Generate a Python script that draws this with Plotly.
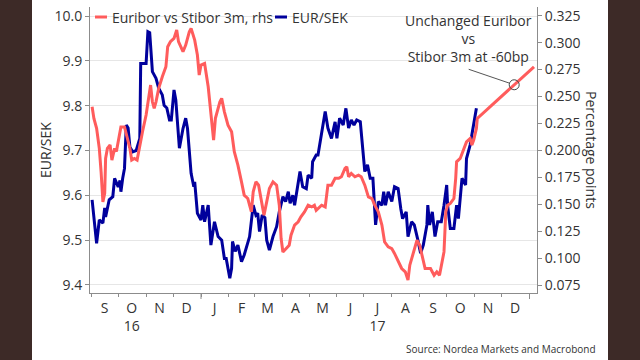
import plotly.graph_objects as go

# ---------------- data ----------------
eursek_dates = [
    "2016-09-02", "2016-09-07", "2016-09-10", "2016-09-14", "2016-09-16", "2016-09-17",
    "2016-09-21", "2016-09-25", "2016-09-27", "2016-10-01", "2016-10-03", "2016-10-04",
    "2016-10-06", "2016-10-08", "2016-10-10", "2016-10-12", "2016-10-14", "2016-10-17",
    "2016-10-21", "2016-10-25", "2016-10-26", "2016-11-01", "2016-11-03", "2016-11-05",
    "2016-11-08", "2016-11-12", "2016-11-15", "2016-11-19", "2016-11-21", "2016-11-24",
    "2016-11-27", "2016-11-29", "2016-12-02", "2016-12-04", "2016-12-08", "2016-12-12",
    "2016-12-15", "2016-12-17", "2016-12-21", "2016-12-24", "2016-12-25", "2016-12-28",
    "2017-01-01", "2017-01-03", "2017-01-05", "2017-01-09", "2017-01-12", "2017-01-16",
    "2017-01-20", "2017-01-24", "2017-01-27", "2017-01-29", "2017-02-02", "2017-02-04",
    "2017-02-05", "2017-02-08", "2017-02-11", "2017-02-15", "2017-02-18", "2017-02-20",
    "2017-02-24", "2017-02-28", "2017-03-03", "2017-03-05", "2017-03-07", "2017-03-10",
    "2017-03-13", "2017-03-15", "2017-03-18", "2017-03-22", "2017-03-26", "2017-03-29",
    "2017-04-02", "2017-04-05", "2017-04-08", "2017-04-10", "2017-04-13", "2017-04-15",
    "2017-04-19", "2017-04-21", "2017-04-24", "2017-04-28", "2017-04-30", "2017-05-04",
    "2017-05-05", "2017-05-09", "2017-05-11", "2017-05-15", "2017-05-19", "2017-05-22",
    "2017-05-26", "2017-05-30", "2017-06-01", "2017-06-04", "2017-06-08", "2017-06-11",
    "2017-06-14", "2017-06-17", "2017-06-20", "2017-06-23", "2017-06-27", "2017-07-01",
    "2017-07-02", "2017-07-05", "2017-07-08", "2017-07-11", "2017-07-14", "2017-07-17",
    "2017-07-21", "2017-07-23", "2017-07-25", "2017-07-28", "2017-08-01", "2017-08-04",
    "2017-08-08", "2017-08-11", "2017-08-13", "2017-08-17", "2017-08-19", "2017-08-23",
    "2017-08-26", "2017-08-30", "2017-09-02", "2017-09-05", "2017-09-06", "2017-09-09",
    "2017-09-10", "2017-09-12", "2017-09-15", "2017-09-18", "2017-09-21", "2017-09-25",
    "2017-09-28", "2017-10-01", "2017-10-02", "2017-10-05", "2017-10-09", "2017-10-12",
    "2017-10-14", "2017-10-16", "2017-10-18", "2017-10-22", "2017-10-23", "2017-10-27",
    "2017-10-31", "2017-11-03",
]
eursek_values = [
    9.590, 9.493, 9.545, 9.538, 9.572, 9.552,
    9.590, 9.597, 9.638, 9.619, 9.633, 9.608,
    9.638, 9.660, 9.757, 9.750, 9.708, 9.697,
    9.700, 9.727, 9.894, 9.894, 9.965, 9.963,
    9.876, 9.861, 9.839, 9.824, 9.801, 9.795,
    9.768, 9.768, 9.835, 9.813, 9.705, 9.749,
    9.772, 9.749, 9.649, 9.619, 9.630, 9.560,
    9.545, 9.578, 9.541, 9.578, 9.489, 9.541,
    9.508, 9.500, 9.459, 9.459, 9.415, 9.437,
    9.497, 9.475, 9.489, 9.452, 9.467, 9.482,
    9.508, 9.578, 9.556, 9.560, 9.519, 9.556,
    9.550, 9.500, 9.478, 9.508, 9.530, 9.563,
    9.597, 9.586, 9.608, 9.582, 9.600, 9.578,
    9.623, 9.653, 9.619, 9.615, 9.645, 9.638,
    9.675, 9.690, 9.690, 9.742, 9.787, 9.750,
    9.727, 9.764, 9.727, 9.772, 9.757, 9.794,
    9.750, 9.768, 9.757, 9.768, 9.764, 9.675,
    9.653, 9.668, 9.638, 9.638, 9.534, 9.586,
    9.578, 9.608, 9.578, 9.608, 9.586, 9.619,
    9.615, 9.570, 9.548, 9.563, 9.508, 9.541,
    9.534, 9.500, 9.471, 9.489, 9.500, 9.534,
    9.578, 9.534, 9.563, 9.508, 9.541, 9.541,
    9.578, 9.623, 9.578, 9.526, 9.526, 9.578,
    9.548, 9.601, 9.638, 9.623, 9.682, 9.712,
    9.764, 9.794,
]

spread_dates = [
    "2016-09-02", "2016-09-04", "2016-09-07", "2016-09-10", "2016-09-12", "2016-09-14",
    "2016-09-16", "2016-09-17", "2016-09-19", "2016-09-22", "2016-09-24", "2016-09-27",
    "2016-09-29", "2016-10-03", "2016-10-04", "2016-10-08", "2016-10-10", "2016-10-14",
    "2016-10-16", "2016-10-19", "2016-10-22", "2016-10-25", "2016-10-28", "2016-11-01",
    "2016-11-04", "2016-11-06", "2016-11-08", "2016-11-10", "2016-11-12", "2016-11-15",
    "2016-11-19", "2016-11-23", "2016-11-25", "2016-11-28", "2016-12-02", "2016-12-05",
    "2016-12-07", "2016-12-12", "2016-12-15", "2016-12-19", "2016-12-21", "2016-12-25",
    "2016-12-28", "2016-12-30", "2017-01-01", "2017-01-05", "2017-01-09", "2017-01-12",
    "2017-01-15", "2017-01-17", "2017-01-22", "2017-01-24", "2017-01-27", "2017-01-31",
    "2017-02-04", "2017-02-07", "2017-02-11", "2017-02-15", "2017-02-18", "2017-02-22",
    "2017-02-26", "2017-02-28", "2017-03-03", "2017-03-06", "2017-03-09", "2017-03-12",
    "2017-03-15", "2017-03-18", "2017-03-22", "2017-03-26", "2017-03-29", "2017-03-31",
    "2017-04-02", "2017-04-06", "2017-04-09", "2017-04-11", "2017-04-15", "2017-04-19",
    "2017-04-22", "2017-04-26", "2017-04-30", "2017-05-04", "2017-05-07", "2017-05-09",
    "2017-05-11", "2017-05-15", "2017-05-19", "2017-05-22", "2017-05-26", "2017-05-30",
    "2017-06-03", "2017-06-06", "2017-06-10", "2017-06-12", "2017-06-14", "2017-06-17",
    "2017-06-21", "2017-06-25", "2017-06-28", "2017-07-02", "2017-07-06", "2017-07-10",
    "2017-07-13", "2017-07-17", "2017-07-21", "2017-07-24", "2017-07-28", "2017-08-01",
    "2017-08-04", "2017-08-08", "2017-08-12", "2017-08-16", "2017-08-19", "2017-08-21",
    "2017-08-25", "2017-08-29", "2017-09-01", "2017-09-04", "2017-09-07", "2017-09-11",
    "2017-09-13", "2017-09-17", "2017-09-20", "2017-09-23", "2017-09-26", "2017-09-28",
    "2017-09-30", "2017-10-02", "2017-10-05", "2017-10-09", "2017-10-11", "2017-10-12",
    "2017-10-16", "2017-10-20", "2017-10-23", "2017-10-27", "2017-10-29", "2017-10-31",
    "2017-11-03", "2017-11-04", "2018-01-06",
]
spread_values = [
    0.2405, 0.2297, 0.2204, 0.2018, 0.1801, 0.1522,
    0.1600, 0.1925, 0.2018, 0.2050, 0.1910, 0.2018,
    0.1990, 0.2172, 0.2218, 0.2218, 0.2157, 0.2018,
    0.1910, 0.1925, 0.1910, 0.2050, 0.2172, 0.2328,
    0.2513, 0.2606, 0.2451, 0.2390, 0.2451, 0.2575,
    0.2683, 0.2776, 0.2962, 0.3009, 0.3040, 0.3117,
    0.3009, 0.2916, 0.2978, 0.3101, 0.3133, 0.3023,
    0.2885, 0.2699, 0.2792, 0.2807, 0.2590, 0.2358,
    0.2095, 0.2297, 0.2451, 0.2483, 0.2358, 0.2234,
    0.2172, 0.1987, 0.1863, 0.1708, 0.1584, 0.1553,
    0.1429, 0.1615, 0.1708, 0.1677, 0.1553, 0.1398,
    0.1522, 0.1646, 0.1708, 0.1677, 0.1491, 0.1182,
    0.1057, 0.1088, 0.1119, 0.1213, 0.1306, 0.1337,
    0.1383, 0.1429, 0.1491, 0.1475, 0.1491, 0.1444,
    0.1460, 0.1491, 0.1475, 0.1677, 0.1677, 0.1740,
    0.1740, 0.1755, 0.1832, 0.1848, 0.1755, 0.1786,
    0.1755, 0.1770, 0.1755, 0.1677, 0.1568, 0.1553,
    0.1491, 0.1429, 0.1306, 0.1150, 0.1104, 0.1088,
    0.1043, 0.0965, 0.0903, 0.0872, 0.0795, 0.0934,
    0.1057, 0.1166, 0.1119, 0.0996, 0.0903, 0.0903,
    0.0903, 0.0841, 0.0872, 0.0841, 0.0965, 0.1057,
    0.1429, 0.1491, 0.1507, 0.1553, 0.1740, 0.1894,
    0.1925, 0.2018, 0.2079, 0.2110, 0.2050, 0.2095,
    0.2204, 0.2297, 0.2776,
]

# highlighted point on the projection
marker_date = "2017-12-15"
marker_value = 0.2609

# axis ticks
month_starts = [
    "2016-09-01", "2016-10-01", "2016-11-01", "2016-12-01", "2017-01-01",
    "2017-02-01", "2017-03-01", "2017-04-01", "2017-05-01", "2017-06-01",
    "2017-07-01", "2017-08-01", "2017-09-01", "2017-10-01", "2017-11-01",
    "2017-12-01", "2018-01-01",
]
year_starts = ["2017-01-01", "2018-01-01"]
month_mids = [
    "2016-09-16", "2016-10-16", "2016-11-16", "2016-12-16", "2017-01-16",
    "2017-02-15", "2017-03-16", "2017-04-16", "2017-05-16", "2017-06-16",
    "2017-07-16", "2017-08-16", "2017-09-16", "2017-10-16", "2017-11-16",
    "2017-12-16",
]
month_labels = ["S", "O<br>16", "N", "D", "J", "F", "M", "A", "M", "J",
                "J<br>17", "A", "S", "O", "N", "D"]
left_ticks = [9.4, 9.5, 9.6, 9.7, 9.8, 9.9, 10.0]
right_ticks = [0.075, 0.100, 0.125, 0.150, 0.175, 0.200, 0.225, 0.250, 0.275, 0.300, 0.325]

# ---------------- style ----------------
RED = "#ff5c5c"
BLUE = "#00009c"
TXT = "#333333"
AX = "#8c8c8c"
FONT = "Open Sans"
DARK = "#3d2a27"

# plot area in pixels: x 90..537, y 7..293
L, R, T, B = 90, 103, 7, 67
PW, PH = 640 - L - R, 360 - T - B


def px(xp):
    return (xp - L) / PW


def py(yp):
    return (T + PH - yp) / PH


fig = go.Figure()
fig.add_trace(go.Scatter(x=eursek_dates, y=eursek_values, mode="lines",
                         line=dict(color=BLUE, width=3), name="EUR/SEK",
                         yaxis="y", showlegend=False))
fig.add_trace(go.Scatter(x=spread_dates, y=spread_values, mode="lines",
                         line=dict(color=RED, width=3), name="Euribor vs Stibor 3m, rhs",
                         yaxis="y2", showlegend=False))
fig.add_trace(go.Scatter(x=[marker_date], y=[marker_value], mode="markers",
                         marker=dict(symbol="circle-open", size=10,
                                     line=dict(color="#444444", width=1), color="#444444"),
                         yaxis="y2", showlegend=False, hoverinfo="skip"))

shapes = [
    dict(type="rect", xref="paper", yref="paper", x0=px(0), x1=px(32),
         y0=py(360), y1=py(0), fillcolor=DARK, line=dict(width=0), layer="below"),
    dict(type="rect", xref="paper", yref="paper", x0=px(608), x1=px(640),
         y0=py(360), y1=py(0), fillcolor=DARK, line=dict(width=0), layer="below"),
    # custom legend samples
    dict(type="line", xref="paper", yref="paper", x0=px(95), x1=px(107),
         y0=py(17), y1=py(17), line=dict(color=RED, width=3)),
    dict(type="line", xref="paper", yref="paper", x0=px(275), x1=px(287),
         y0=py(17), y1=py(17), line=dict(color=BLUE, width=3)),
]
for ys in year_starts:
    shapes.append(dict(type="line", xref="x", yref="paper", x0=ys, x1=ys,
                       y0=0, y1=py(299), line=dict(color=AX, width=1)))

annotations = [
    dict(text="Euribor vs Stibor 3m, rhs", x=px(110), y=py(17), xref="paper", yref="paper",
         xanchor="left", yanchor="middle", showarrow=False, font=dict(size=14, color=TXT, family=FONT)),
    dict(text="EUR/SEK", x=px(290), y=py(17), xref="paper", yref="paper",
         xanchor="left", yanchor="middle", showarrow=False, font=dict(size=14, color=TXT, family=FONT)),
    dict(text="Unchanged Euribor<br>vs<br>Stibor 3m at -60bp", x=px(468), y=py(38.5),
         xref="paper", yref="paper", xanchor="center", yanchor="middle", showarrow=False,
         font=dict(size=14, color=TXT, family=FONT)),
    dict(text="", x=marker_date, y=marker_value, xref="x", yref="y2",
         showarrow=True, arrowhead=0, arrowwidth=1, arrowcolor="#555555",
         ax=-47, ay=-16, standoff=5),
    dict(text="Percentage points", x=px(592), y=0.5, xref="paper", yref="paper",
         textangle=90, showarrow=False, xanchor="center", yanchor="middle",
         font=dict(size=14, color=TXT, family=FONT)),
    dict(text="EUR/SEK", x=px(45), y=0.5, xref="paper", yref="paper",
         textangle=-90, showarrow=False, xanchor="center", yanchor="middle",
         font=dict(size=14, color=TXT, family=FONT)),
    dict(text="Source: Nordea Markets and Macrobond", x=px(598), y=py(349),
         xref="paper", yref="paper", xanchor="right", yanchor="middle", showarrow=False,
         font=dict(size=10, color=TXT, family=FONT)),
]

fig.update_layout(
    width=640, height=360,
    margin=dict(l=L, r=R, t=T, b=B),
    paper_bgcolor="white", plot_bgcolor="white",
    font=dict(family=FONT, size=14, color=TXT),
    shapes=shapes, annotations=annotations,
    hovermode=False,
    xaxis=dict(
        type="date", range=["2016-08-30 16:00", "2018-01-09 08:00"],
        tickmode="array", tickvals=month_mids, ticktext=month_labels,
        ticks="", showgrid=False, showline=True, linecolor=AX, linewidth=1,
        tickfont=dict(size=14, color=TXT), ticklabelstandoff=2,
        minor=dict(tickmode="array", tickvals=month_starts, ticks="outside",
                   ticklen=3, tickcolor=AX, showgrid=False),
        zeroline=False,
    ),
    yaxis=dict(
        range=[9.3821, 10.0201], tickmode="array", tickvals=left_ticks,
        tickformat=".1f", showgrid=True, gridcolor="#e6e6e6", gridwidth=1,
        showline=True, linecolor=AX, linewidth=1, ticks="outside", ticklen=4,
        tickcolor=AX, tickfont=dict(size=14, color=TXT), zeroline=False,
    ),
    yaxis2=dict(
        range=[0.06757, 0.3331], overlaying="y", side="right", tickmode="array",
        tickvals=right_ticks, tickformat=".3f", showgrid=False, showline=True,
        linecolor=AX, linewidth=1, ticks="outside", ticklen=4, tickcolor=AX,
        tickfont=dict(size=14, color=TXT), zeroline=False,
    ),
)

# remove the default page margin so the 640x360 figure fills the window exactly
fig.write_html("out.html", config={"displayModeBar": False},
               post_script="document.body.style.margin='0';")
